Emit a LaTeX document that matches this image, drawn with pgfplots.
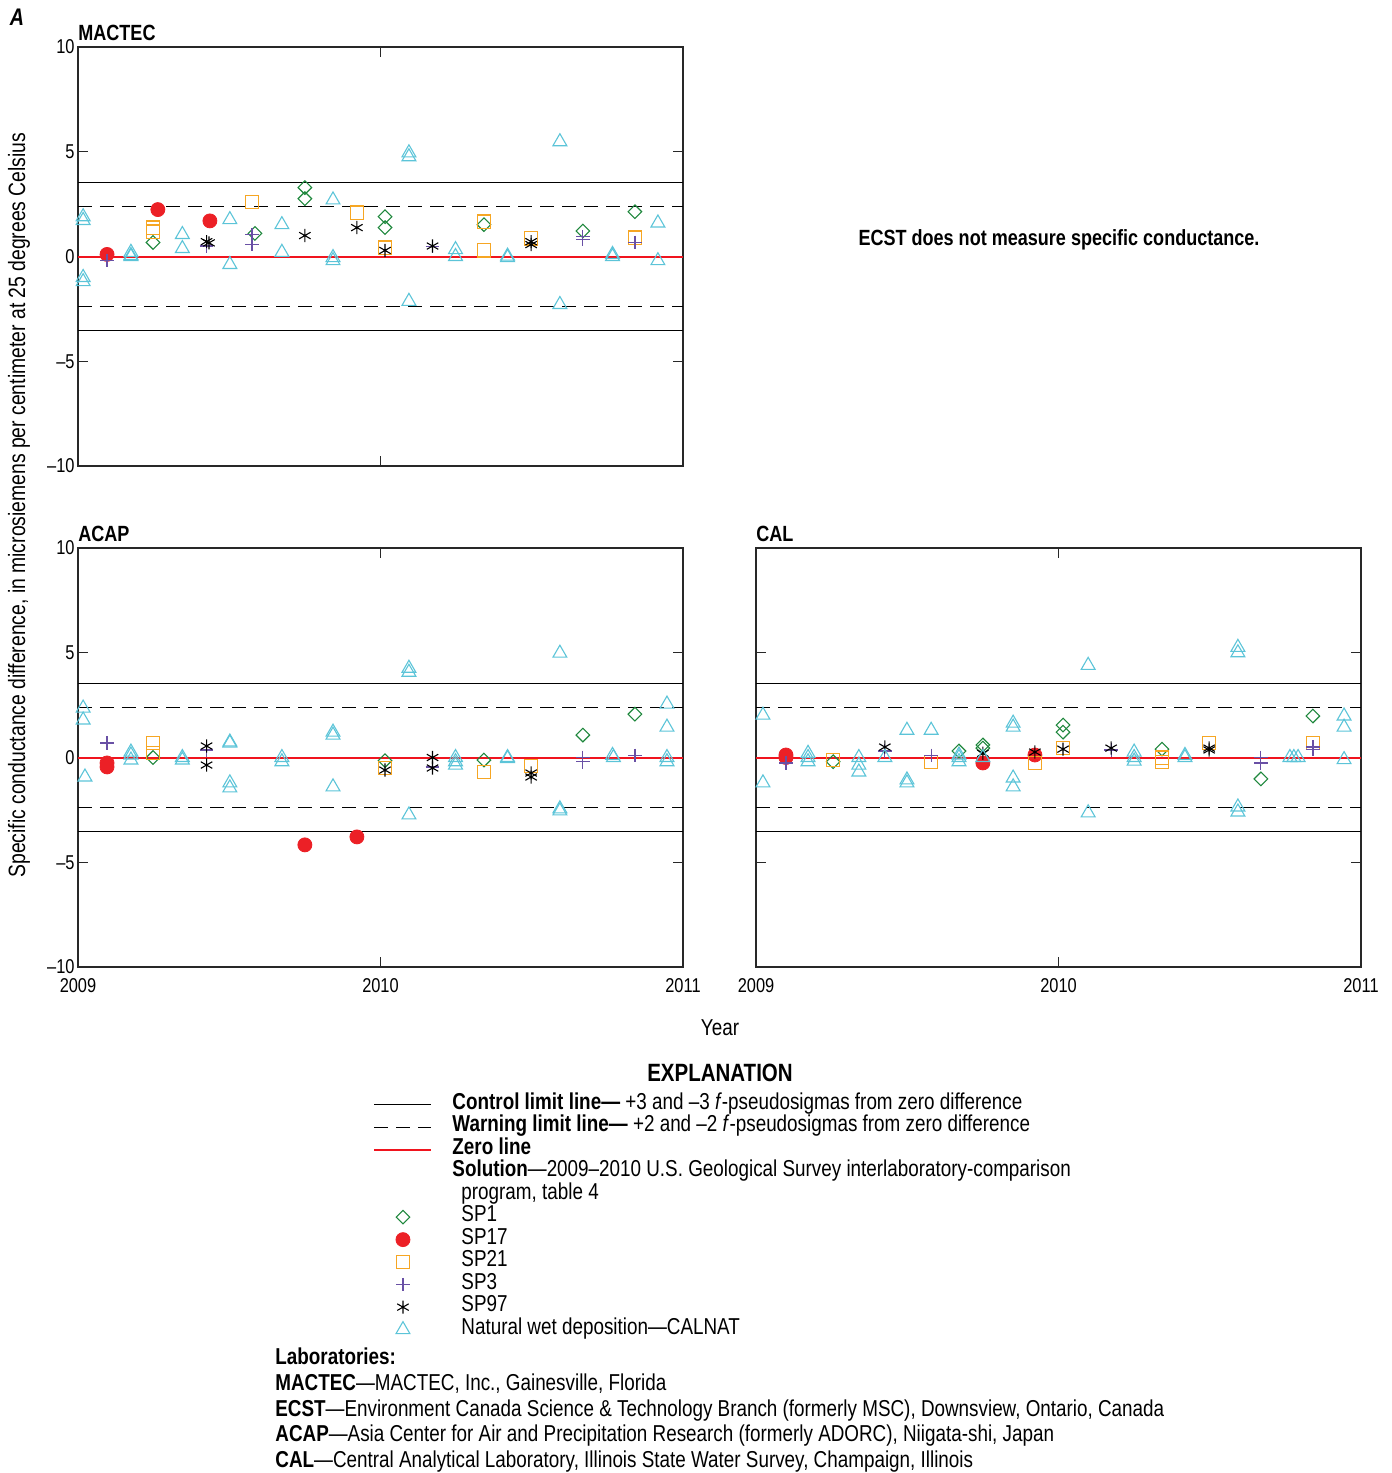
\documentclass[border=0pt]{standalone}
\usepackage{pgfplots}
\pgfplotsset{compat=1.18}
\usepackage{fontspec}
\setmainfont{Liberation Sans}[FakeStretch=0.82]
\usetikzlibrary{plotmarks}

\definecolor{sp1c}{RGB}{30,135,60}
\definecolor{sp17c}{RGB}{236,32,38}
\definecolor{zeroc}{RGB}{240,20,30}
\definecolor{sp21c}{RGB}{246,166,35}
\definecolor{sp3c}{RGB}{105,80,165}
\definecolor{calc}{RGB}{92,196,216}
\definecolor{axc}{RGB}{40,40,40}

\pgfplotsset{
  every axis title shift=0pt,
  qcpanel/.style={
    scale only axis, width=302.5pt, height=209.5pt, anchor=south west,
    xmin=2009, xmax=2011, ymin=-10, ymax=10,
    xtick={2009,2010,2011}, xticklabels={2009,2010,2011},
    ytick={-10,-5,0,5,10}, yticklabels={\textendash10,\textendash5,0,5,10},
    tick align=inside, major tick length=5pt,
    axis line style={line width=0.8pt, axc},
    every tick/.style={axc, line width=0.6pt},
    tick label style={font=\fontsize{10}{11}\selectfont},
    yticklabel style={inner xsep=1.5pt},
    xticklabel style={yshift=-2pt},
    title style={at={(axis description cs:0,1)}, anchor=base west, inner sep=0pt,
      yshift=3.5pt, font=\fontsize{11}{13}\selectfont\bfseries},
    clip=false},
  ctrlline/.style={black, line width=0.6pt},
  warnline/.style={black, line width=0.6pt, dash pattern=on 7pt off 4pt},
  zeroline/.style={draw=zeroc, color=zeroc, line width=1pt},
  sp1/.style={only marks, sp1c, mark=square, mark size=2.4pt, mark options={rotate=45, solid, line width=0.55pt}},
  sp17/.style={only marks, sp17c, mark=*, mark size=3.5pt, mark options={solid}},
  sp21/.style={only marks, sp21c, mark=square, mark size=3.3pt, mark options={solid, line width=0.6pt}},
  sp3/.style={only marks, sp3c, mark=+, mark size=3.4pt, mark options={solid, line width=0.6pt}},
  sp97/.style={only marks, black, mark=asterisk, mark size=3.3pt, mark options={solid, line width=0.55pt}},
  calnat/.style={only marks, calc, mark=triangle, mark size=4pt, mark options={solid, line width=0.55pt}},
}

\newcommand{\limitlines}{%
  \addplot[ctrlline] coordinates {(2009,3.55) (2011,3.55)};
  \addplot[ctrlline] coordinates {(2009,-3.55) (2011,-3.55)};
  \addplot[warnline] coordinates {(2009,2.38) (2011,2.38)};
  \addplot[warnline] coordinates {(2009,-2.38) (2011,-2.38)};
  \addplot[zeroline] coordinates {(2009,0) (2011,0)};
}

\begin{document}
\begin{tikzpicture}
\useasboundingbox (0,0) rectangle (696pt,-736.5pt);

% MACTEC
\begin{axis}[qcpanel, at={(39pt,-233pt)}, title={MACTEC}, xticklabels={}]
  \limitlines
  \addplot[sp1] coordinates {(2009.248,0.67) (2009.585,1.1) (2009.750,3.29) (2009.750,2.76) (2010.015,1.9) (2010.015,1.38) (2010.342,1.52) (2010.669,1.22) (2010.841,2.14)};
  \addplot[sp17] coordinates {(2009.096,0.1) (2009.264,2.24) (2009.436,1.7)};
  \addplot[sp21] coordinates {(2009.248,1.38) (2009.248,1.19) (2009.575,2.6) (2009.922,2.1) (2010.015,0.43) (2010.342,1.67) (2010.342,0.29) (2010.498,0.86) (2010.841,0.9)};
  \addplot[sp3] coordinates {(2009.096,-0.2) (2009.425,0.5) (2009.575,1.05) (2009.575,0.57) (2010.172,0.48) (2010.669,0.95) (2010.669,0.81) (2010.841,0.67)};
  \addplot[sp97] coordinates {(2009.425,0.71) (2009.433,0.65) (2009.750,1.0) (2009.922,1.38) (2010.015,0.29) (2010.172,0.5) (2010.498,0.71) (2010.498,0.57)};
  \addplot[calnat] coordinates {(2009.017,1.9) (2009.017,1.72) (2009.017,-1.0) (2009.017,-1.2) (2009.175,0.2) (2009.175,0.05) (2009.175,0.0) (2009.345,1.05) (2009.345,0.38) (2009.502,1.76) (2009.502,-0.38) (2009.674,1.52) (2009.674,0.2) (2009.843,2.7) (2009.843,-0.05) (2009.843,-0.2) (2010.094,4.95) (2010.094,4.76) (2010.094,-2.14) (2010.248,0.33) (2010.248,0.0) (2010.420,0.02) (2010.420,-0.05) (2010.593,5.48) (2010.593,-2.29) (2010.767,0.1) (2010.767,0.0) (2010.917,1.6) (2010.917,-0.2)};
\end{axis}

% ACAP
\begin{axis}[qcpanel, at={(39pt,-483.5pt)}, title={ACAP}]
  \limitlines
  \addplot[sp1] coordinates {(2009.248,0.0) (2010.015,-0.15) (2010.342,-0.12) (2010.669,1.07) (2010.841,2.07)};
  \addplot[sp17] coordinates {(2009.096,-0.26) (2009.096,-0.45) (2009.750,-4.17) (2009.922,-3.79)};
  \addplot[sp21] coordinates {(2009.248,0.69) (2009.248,0.21) (2010.015,-0.5) (2010.342,-0.69) (2010.498,-0.4)};
  \addplot[sp3] coordinates {(2009.096,0.69) (2009.425,0.36) (2010.172,-0.45) (2010.669,0.0) (2010.669,-0.2) (2010.841,0.1)};
  \addplot[sp97] coordinates {(2009.425,0.55) (2009.425,-0.36) (2010.015,-0.6) (2010.172,0.0) (2010.172,-0.5) (2010.498,-0.74) (2010.498,-0.93)};
  \addplot[calnat] coordinates {(2009.017,2.36) (2009.017,1.79) (2009.023,-0.93) (2009.175,0.26) (2009.175,0.12) (2009.175,-0.12) (2009.345,0.0) (2009.345,-0.12) (2009.502,0.74) (2009.502,0.69) (2009.502,-1.21) (2009.502,-1.45) (2009.674,0.0) (2009.674,-0.2) (2009.843,1.21) (2009.843,1.07) (2009.843,-1.4) (2010.094,4.26) (2010.094,4.07) (2010.094,-2.74) (2010.248,0.0) (2010.248,-0.2) (2010.248,-0.36) (2010.420,0.0) (2010.420,-0.05) (2010.593,4.98) (2010.593,-2.45) (2010.593,-2.55) (2010.767,0.1) (2010.770,0.0) (2010.947,2.55) (2010.947,1.45) (2010.947,0.0) (2010.947,-0.2)};
\end{axis}

% CAL
\begin{axis}[qcpanel, at={(378pt,-483.5pt)}, title={CAL}, yticklabels={}]
  \limitlines
  \addplot[sp1] coordinates {(2009.255,-0.2) (2009.671,0.31) (2009.750,0.6) (2009.750,0.45) (2010.015,1.55) (2010.015,1.21) (2010.342,0.4) (2010.669,-1.02) (2010.841,1.98)};
  \addplot[sp17] coordinates {(2009.099,0.12) (2009.099,0.0) (2009.750,-0.26) (2009.922,0.12)};
  \addplot[sp21] coordinates {(2009.255,-0.12) (2009.579,-0.2) (2009.922,-0.26) (2010.015,0.45) (2010.342,0.0) (2010.342,-0.2) (2010.498,0.69) (2010.841,0.69)};
  \addplot[sp3] coordinates {(2009.099,-0.26) (2009.426,0.31) (2009.579,0.1) (2010.174,0.36) (2010.669,0.0) (2010.669,-0.26) (2010.841,0.5) (2010.841,0.4)};
  \addplot[sp97] coordinates {(2009.426,0.5) (2009.750,0.2) (2009.922,0.26) (2010.015,0.4) (2010.174,0.45) (2010.498,0.45) (2010.498,0.36)};
  \addplot[calnat] coordinates {(2009.023,2.02) (2009.023,-1.21) (2009.172,0.2) (2009.172,0.0) (2009.172,-0.2) (2009.340,0.0) (2009.340,-0.36) (2009.340,-0.69) (2009.426,0.0) (2009.499,1.3) (2009.499,-1.07) (2009.499,-1.21) (2009.579,1.3) (2009.671,0.12) (2009.671,0.0) (2009.671,-0.2) (2009.750,0.0) (2009.850,1.64) (2009.850,1.45) (2009.850,-0.98) (2009.850,-1.4) (2010.098,4.4) (2010.098,-2.64) (2010.250,0.26) (2010.250,0.0) (2010.250,-0.17) (2010.418,0.1) (2010.418,0.0) (2010.593,5.26) (2010.593,5.0) (2010.593,-2.36) (2010.593,-2.6) (2010.765,0.0) (2010.778,0.0) (2010.792,0.0) (2010.944,1.98) (2010.944,1.45) (2010.944,-0.1)};
\end{axis}

% explanation legend
\begin{axis}[at={(0pt,-736.5pt)}, anchor=south west, scale only axis, width=696pt, height=736.5pt,
  hide axis, xmin=0, xmax=1, ymin=0, ymax=1,
  legend style={at={(axis description cs:0.268,0.2580)}, anchor=north west, draw=none, fill=none,
    font=\fontsize{11.5}{12}\selectfont, row sep=0pt, column sep=10pt, inner sep=0pt,
    nodes={inner sep=0pt, text height=8pt, text depth=3.25pt}},
  legend cell align=left,
  legend image code/.code={\draw[mark repeat=2,mark phase=2] plot coordinates {(0pt,0pt) (14.25pt,0pt) (28.5pt,0pt)};}]
  \addlegendimage{ctrlline}
  \addlegendentry{\textbf{Control limit line—} +3 and –3 \textit{f}-pseudosigmas from zero difference}
  \addlegendimage{warnline}
  \addlegendentry{\textbf{Warning limit line—} +2 and –2 \textit{f}-pseudosigmas from zero difference}
  \addlegendimage{zeroline}
  \addlegendentry{\textbf{Zero line}}
  \addlegendimage{empty legend}
  \addlegendentry{\textbf{Solution}—2009–2010 U.S. Geological Survey interlaboratory-comparison}
  \addlegendimage{empty legend}
  \addlegendentry{\hspace{4.5pt}program, table 4}
  \addlegendimage{sp1}
  \addlegendentry{\hspace{4.5pt}SP1}
  \addlegendimage{sp17}
  \addlegendentry{\hspace{4.5pt}SP17}
  \addlegendimage{sp21}
  \addlegendentry{\hspace{4.5pt}SP21}
  \addlegendimage{sp3}
  \addlegendentry{\hspace{4.5pt}SP3}
  \addlegendimage{sp97}
  \addlegendentry{\hspace{4.5pt}SP97}
  \addlegendimage{calnat}
  \addlegendentry{\hspace{4.5pt}Natural wet deposition—CALNAT}
\end{axis}

\node[font=\fontsize{12}{14}\selectfont\bfseries\itshape] at (8.5pt,-8.5pt) {A};
\node[rotate=90, font=\fontsize{11.8}{13}\selectfont] at (9.5pt,-252.5pt)
  {Specific conductance difference, in microsiemens per centimeter at 25 degrees Celsius};
\node[font=\fontsize{11}{13}\selectfont\bfseries] at (529.5pt,-120pt) {ECST does not measure specific conductance.};
\node[font=\fontsize{11.5}{13}\selectfont] at (360pt,-514pt) {Year};
\node[font=\fontsize{12.5}{14}\selectfont\bfseries] at (360pt,-536.5pt) {EXPLANATION};

\begin{scope}[every node/.style={anchor=base west, inner sep=0pt, font=\fontsize{11.5}{12}\selectfont}]
\node at (137.5pt,-682pt) {\textbf{Laboratories:}};
\node at (137.5pt,-695pt) {\textbf{MACTEC}—MACTEC, Inc., Gainesville, Florida};
\node at (137.5pt,-708pt) {\textbf{ECST}—Environment Canada Science \& Technology Branch (formerly MSC), Downsview, Ontario, Canada};
\node at (137.5pt,-720.5pt) {\textbf{ACAP}—Asia Center for Air and Precipitation Research (formerly ADORC), Niigata-shi, Japan};
\node at (137.5pt,-733.5pt) {\textbf{CAL}—Central Analytical Laboratory, Illinois State Water Survey, Champaign, Illinois};
\end{scope}
\end{tikzpicture}
\end{document}
